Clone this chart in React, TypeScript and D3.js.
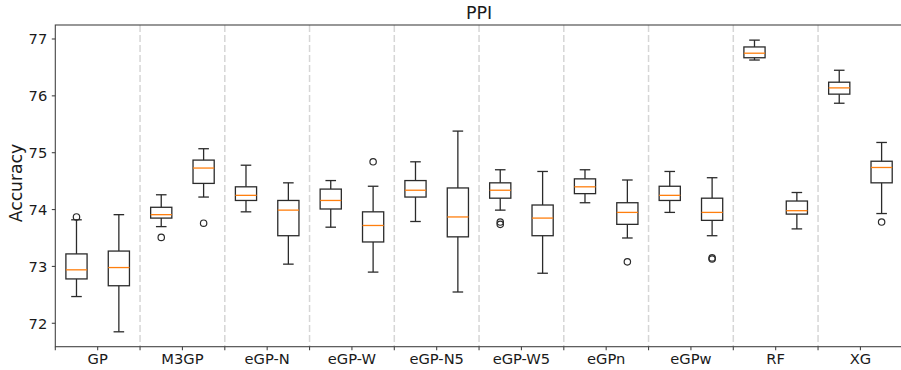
import React from "react";
import * as d3 from "d3";

const categories = ["GP", "M3GP", "eGP-N", "eGP-W", "eGP-N5", "eGP-W5", "eGPn", "eGPw", "RF", "XG"];
const yTicks = [72, 73, 74, 75, 76, 77];

// Series A (left box in each group)
const aLow = [72.47, 73.7, 73.96, 73.69, 73.79, 73.99, 74.12, 73.95, 76.63, 75.87];
const aQ1 = [72.78, 73.85, 74.16, 74.01, 74.22, 74.2, 74.28, 74.16, 76.67, 76.03];
const aMed = [72.94, 73.91, 74.25, 74.16, 74.34, 74.34, 74.4, 74.25, 76.75, 76.14];
const aQ3 = [73.22, 74.04, 74.4, 74.36, 74.51, 74.47, 74.54, 74.41, 76.86, 76.24];
const aHigh = [73.82, 74.26, 74.78, 74.51, 74.84, 74.7, 74.7, 74.67, 76.98, 76.45];
const aOut = [[73.87], [73.51], [], [], [], [73.74, 73.78], [], [], [], []];

// Series B (right box in each group)
const bLow = [71.85, 74.22, 73.04, 72.9, 72.55, 72.88, 73.5, 73.54, 73.66, 73.93];
const bQ1 = [72.66, 74.46, 73.54, 73.43, 73.52, 73.54, 73.74, 73.81, 73.92, 74.47];
const bMed = [72.98, 74.73, 73.99, 73.72, 73.87, 73.85, 73.95, 73.95, 73.98, 74.74];
const bQ3 = [73.27, 74.87, 74.16, 73.96, 74.38, 74.08, 74.12, 74.2, 74.15, 74.85];
const bHigh = [73.91, 75.07, 74.47, 74.41, 75.38, 74.67, 74.52, 74.56, 74.3, 75.18];
const bOut = [[], [73.76], [], [74.84], [], [], [73.08], [73.13, 73.15], [], [73.78]];

const W = 901;
const H = 370;
const left = 55.3;
const right = 902.8;
const top = 25;
const bottom = 346.7;

export default function App() {
  const x = d3.scaleLinear().domain([0.5, categories.length + 0.5]).range([left, right]);
  const y = d3.scaleLinear().domain([77.246, 71.588]).range([top, bottom]);
  const unit = x(2) - x(1);
  const boxW = 0.25 * unit;
  const capW = boxW / 2;
  const offset = 0.25;
  const font = "'DejaVu Sans', sans-serif";
  const boxStroke = "#2b2b2b";

  const series = [
    { dx: -offset, low: aLow, q1: aQ1, med: aMed, q3: aQ3, high: aHigh, out: aOut },
    { dx: offset, low: bLow, q1: bQ1, med: bMed, q3: bQ3, high: bHigh, out: bOut },
  ];

  const halfTicks: number[] = [];
  for (let i = 0; i <= categories.length * 2; i++) halfTicks.push(0.5 + i * 0.5);

  return (
    <svg width={W} height={H} style={{ position: "absolute", left: 0, top: 0 }} fontFamily={font}>
      <rect x={0} y={0} width={W} height={H} fill="#fff" />
      {/* separators */}
      {categories.slice(0, -1).map((_, i) => (
        <line
          key={"sep" + i}
          x1={x(i + 1.5)}
          x2={x(i + 1.5)}
          y1={top}
          y2={bottom}
          stroke="#d6d6d6"
          strokeWidth={1.5}
          strokeDasharray="7,3"
        />
      ))}
      {/* boxes */}
      {categories.map((c, i) =>
        series.map((s, k) => {
          const cx = x(i + 1 + s.dx);
          return (
            <g key={c + k} fill="none" stroke={boxStroke} strokeWidth={1.3}>
              <line x1={cx} x2={cx} y1={y(s.high[i])} y2={y(s.q3[i])} />
              <line x1={cx} x2={cx} y1={y(s.q1[i])} y2={y(s.low[i])} />
              <line x1={cx - capW / 2} x2={cx + capW / 2} y1={y(s.high[i])} y2={y(s.high[i])} />
              <line x1={cx - capW / 2} x2={cx + capW / 2} y1={y(s.low[i])} y2={y(s.low[i])} />
              <rect x={cx - boxW / 2} y={y(s.q3[i])} width={boxW} height={y(s.q1[i]) - y(s.q3[i])} />
              <line
                x1={cx - boxW / 2}
                x2={cx + boxW / 2}
                y1={y(s.med[i])}
                y2={y(s.med[i])}
                stroke="#ff7f0e"
              />
              {s.out[i].map((v, j) => (
                <circle key={j} cx={cx} cy={y(v)} r={3.2} strokeWidth={1.2} />
              ))}
            </g>
          );
        })
      )}
      {/* spines */}
      <rect x={left} y={top} width={right - left} height={bottom - top} fill="none" stroke="#444" strokeWidth={1.1} />
      {/* y ticks */}
      {yTicks.map((t) => (
        <g key={"y" + t}>
          <line x1={left - 3.5} x2={left} y1={y(t)} y2={y(t)} stroke="#444" strokeWidth={1.1} />
          <text x={left - 8} y={y(t)} dy="0.36em" textAnchor="end" fontSize={14.7} fill="#1a1a1a">
            {t}
          </text>
        </g>
      ))}
      {/* x ticks */}
      {halfTicks.map((t, i) => (
        <line key={"xt" + i} x1={x(t)} x2={x(t)} y1={bottom} y2={bottom + 3.5} stroke="#444" strokeWidth={1.1} />
      ))}
      {categories.map((c, i) => (
        <text key={"xl" + c} x={x(i + 1)} y={364} textAnchor="middle" fontSize={14.7} fill="#1a1a1a">
          {c}
        </text>
      ))}
      {/* title */}
      <text x={(left + right) / 2} y={19} textAnchor="middle" fontSize={17.5} fill="#1a1a1a">
        PPI
      </text>
      {/* y label */}
      <text
        transform={`translate(21.5, 183) rotate(-90)`}
        textAnchor="middle"
        fontSize={17.2}
        fill="#1a1a1a"
      >
        Accuracy
      </text>
    </svg>
  );
}
